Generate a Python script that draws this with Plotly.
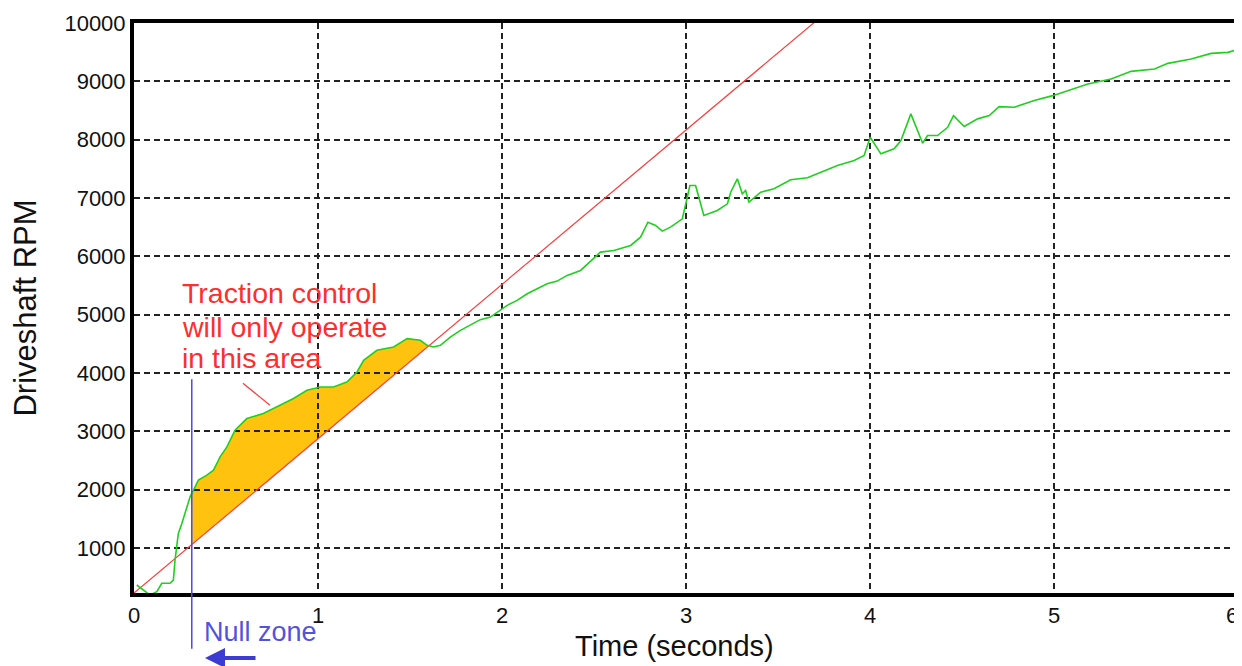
import numpy as np
import plotly.graph_objects as go

# ---- data ----
green_t = [0.015, 0.060, 0.087, 0.124, 0.151, 0.196, 0.214, 0.223, 0.241, 0.260,
           0.305, 0.323, 0.350, 0.396, 0.432, 0.468, 0.505, 0.549, 0.613, 0.703,
           0.776, 0.867, 0.940, 1.012, 1.084, 1.157, 1.212, 1.248, 1.320, 1.411,
           1.484, 1.556, 1.593, 1.628, 1.665, 1.719, 1.774, 1.828, 1.882, 1.937,
           1.991, 2.028, 2.082, 2.137, 2.191, 2.245, 2.300, 2.354, 2.427, 2.535,
           2.608, 2.699, 2.753, 2.793, 2.835, 2.871, 2.916, 2.980, 3.003, 3.021,
           3.052, 3.097, 3.170, 3.225, 3.243, 3.279, 3.306, 3.324, 3.342, 3.406,
           3.478, 3.569, 3.660, 3.733, 3.823, 3.914, 3.968, 4.001, 4.059, 4.131,
           4.168, 4.222, 4.286, 4.313, 4.367, 4.422, 4.454, 4.512, 4.585, 4.648,
           4.702, 4.784, 4.893, 4.993, 5.075, 5.184, 5.310, 5.419, 5.546, 5.619,
           5.745, 5.854, 5.945, 5.990]
green_rpm = [367, 269, 195, 252, 396, 396, 452, 795, 1252, 1423,
             1878, 1993, 2164, 2250, 2335, 2563, 2734, 3020, 3220, 3306,
             3419, 3563, 3705, 3761, 3761, 3847, 4018, 4219, 4390, 4446,
             4590, 4561, 4475, 4446, 4475, 4617, 4732, 4818, 4915, 4960,
             5075, 5160, 5246, 5360, 5446, 5532, 5576, 5674, 5759, 6073,
             6102, 6187, 6329, 6586, 6530, 6432, 6501, 6644, 6958, 7214,
             7214, 6701, 6787, 6901, 7100, 7329, 7072, 7129, 6929, 7100,
             7158, 7312, 7346, 7442, 7557, 7643, 7728, 8042, 7757, 7843,
             7985, 8442, 7939, 8071, 8071, 8213, 8413, 8225, 8357, 8413,
             8567, 8555, 8670, 8755, 8841, 8956, 9041, 9171, 9212, 9308,
             9384, 9479, 9497, 9538]

red_t = [0.0, 3.8]
red_rpm = [230, 10281]

null_zone_t = 0.314

x_ticks = [0, 1, 2, 3, 4, 5, 6]
x_tick_labels = ["0", "1", "2", "3", "4", "5", "6"]
y_ticks = [1000, 2000, 3000, 4000, 5000, 6000, 7000, 8000, 9000, 10000]
x_range = [0, 6]
y_range = [230, 10000]

# ---- traction-control area: between green and red, from null zone to crossing ----
gt = np.array(green_t)
gr = np.array(green_rpm)
red_at = lambda t: np.interp(t, red_t, red_rpm)
diff = gr - red_at(gt)
idx = [i for i in range(len(gt) - 1) if gt[i] > 1.0 and diff[i] > 0 and diff[i + 1] <= 0][0]
frac = diff[idx] / (diff[idx] - diff[idx + 1])
t_cross = gt[idx] + frac * (gt[idx + 1] - gt[idx])
g0 = np.interp(null_zone_t, gt, gr)
mask = (gt > null_zone_t) & (gt < t_cross)
fx = [null_zone_t] + list(gt[mask]) + [t_cross]
fy = [g0] + list(gr[mask]) + [float(red_at(t_cross))]
path = "M " + " L ".join(f"{x:.4f},{y:.1f}" for x, y in zip(fx, fy))
path += f" L {null_zone_t:.4f},{float(red_at(null_zone_t)):.1f} Z"

FONT = "Liberation Sans, Arial, sans-serif"

fig = go.Figure()
fig.add_trace(go.Scatter(x=red_t, y=red_rpm, mode="lines",
                         line=dict(color="#ff3b3b", width=1.2), hoverinfo="skip"))
fig.add_trace(go.Scatter(x=green_t, y=green_rpm, mode="lines",
                         line=dict(color="#1fd01f", width=1.6), hoverinfo="skip"))

fig.add_shape(type="path", path=path, xref="x", yref="y", layer="below",
              fillcolor="#ffc30f", line=dict(width=0))

# Null zone marker line
fig.add_shape(type="line", xref="x", yref="paper", x0=null_zone_t, x1=null_zone_t,
              y0=-0.098, y1=0.375, line=dict(color="#4b4be0", width=1.5), layer="above")
# pointer line for annotation
fig.add_shape(type="line", xref="x", yref="y", x0=0.592, y0=3825, x1=0.739, y1=3448,
              line=dict(color="#ff3b3b", width=1.2))

red_lines = [("Traction control", 5366), ("will only operate", 4783), ("in this area", 4253)]
for txt, yy in red_lines:
    fig.add_annotation(x=0.25, y=yy, xref="x", yref="y", text=txt, showarrow=False,
                       xanchor="left", yanchor="middle",
                       font=dict(family=FONT, size=28.5, color="#ff2d2d"))

fig.add_annotation(x=0.368, y=-0.069, xref="x", yref="paper", text="Null zone",
                   showarrow=False, xanchor="left", yanchor="middle",
                   font=dict(family=FONT, size=27, color="#5252dc"))
fig.add_annotation(x=0.386, y=-0.114, xref="x", yref="paper", text="",
                   showarrow=True, ax=52, ay=0, arrowhead=2, arrowsize=1.0,
                   arrowwidth=4, arrowcolor="#3c3cd2")

# x-axis title (placed as text, slightly left of centre as in the reference)
fig.add_annotation(x=0.49, y=-0.093, xref="paper", yref="paper", text="Time (seconds)",
                   showarrow=False, xanchor="center", yanchor="middle",
                   font=dict(family=FONT, size=29, color="#111"))

# last x tick label sits flush with the right edge, so it is drawn right-aligned
fig.add_annotation(x=x_ticks[-1], y=-0.0386, xref="x", yref="paper",
                   text=x_tick_labels[-1], showarrow=False, xanchor="right",
                   yanchor="middle", xshift=2,
                   font=dict(family=FONT, size=22, color="#111"))

# page body has an 8px default margin, so the figure is sized to fit the window
fig.update_layout(
    width=1234, height=658,
    margin=dict(l=126, r=4, t=15, b=73, autoexpand=False),
    paper_bgcolor="white", plot_bgcolor="white",
    showlegend=False,
    font=dict(family=FONT, color="#111"),
)
fig.update_xaxes(range=x_range, tickvals=x_ticks[:-1], ticktext=x_tick_labels[:-1],
                 showline=True, mirror=True, linewidth=4, linecolor="black",
                 showgrid=True, gridcolor="#222", gridwidth=1.5, griddash="6px,4px",
                 zeroline=False, ticks="", tickfont=dict(size=22), automargin=False)
fig.update_yaxes(range=y_range, tickvals=y_ticks, ticktext=[str(v) for v in y_ticks],
                 showline=True, mirror=True, linewidth=4, linecolor="black",
                 showgrid=True, gridcolor="#222", gridwidth=1.5, griddash="6px,4px",
                 zeroline=False, ticks="", tickfont=dict(size=22), automargin=False,
                 title=dict(text="Driveshaft RPM", font=dict(size=31), standoff=22))

fig.write_html("out.html")
